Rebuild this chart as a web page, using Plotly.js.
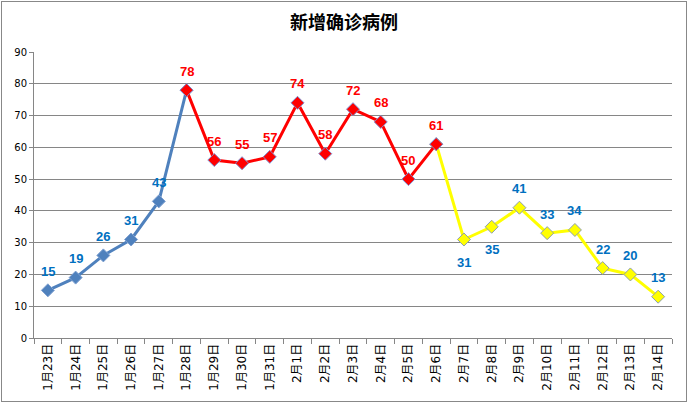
<!DOCTYPE html>
<html>
<head>
<meta charset="utf-8">
<script src="https://cdn.plot.ly/plotly-3.0.1.min.js"></script>
<style>
html,body{margin:0;padding:0;background:#fff;}
#wrap{position:relative;width:688px;height:403px;}
#chart{width:688px;height:403px;}
#frame{position:absolute;left:1px;top:1px;width:684px;height:399px;border:1px solid #888888;pointer-events:none;}
</style>
</head>
<body>
<div id="wrap"><div id="chart"></div><div id="frame"></div></div>
<script>
const categories = ["1月23日","1月24日","1月25日","1月26日","1月27日","1月28日","1月29日","1月30日","1月31日","2月1日","2月2日","2月3日","2月4日","2月5日","2月6日","2月7日","2月8日","2月9日","2月10日","2月11日","2月12日","2月13日","2月14日"];
const values = [15,19,26,31,43,78,56,55,57,74,58,72,68,50,61,31,35,41,33,34,22,20,13];
// segment index ranges
const blueRange = [0,5];
const redRange = [5,14];
const yellowRange = [14,22];
// label placement: 1 = above, -1 = below
const labelSide = [1,1,1,1,1,1,1,1,1,1,1,1,1,1,1,-1,-1,1,1,1,1,1,1];

function seg(r){return {x:categories.slice(r[0],r[1]+1), y:values.slice(r[0],r[1]+1)};}

const blue = seg(blueRange), red = seg(redRange), yellow = seg(yellowRange);
const traces = [
  {type:'scatter',mode:'lines+markers',x:blue.x,y:blue.y,
   line:{color:'#4F81BD',width:3},
   marker:{symbol:'diamond',size:10,color:'#4F81BD',line:{color:'#7FA0D0',width:1}}},
  {type:'scatter',mode:'lines+markers',x:yellow.x,y:yellow.y,
   line:{color:'#FFFF00',width:3},
   marker:{symbol:'diamond',size:10,color:'#FFFF00',line:{color:'#8C9EAF',width:1}}},
  {type:'scatter',mode:'lines+markers',x:red.x,y:red.y,
   line:{color:'#FF0000',width:3},
   marker:{symbol:'diamond',size:10,color:'#FF0000',line:{color:'#7F8FCF',width:1}}}
];

const annotations = values.map((v,i)=>{
  const isRed = i>=redRange[0] && i<=redRange[1];
  return {x:categories[i], y:v, text:String(v), showarrow:false,
    yshift: labelSide[i]>0 ? 19 : -23,
    font:{family:'Liberation Sans, Arial, sans-serif', size:13, color: isRed ? '#FF0000' : '#0070C0', weight:'bold'}};
});

const layout = {
  width:688, height:403,
  margin:{l:34,r:16,t:52,b:65},
  paper_bgcolor:'#ffffff', plot_bgcolor:'#ffffff',
  showlegend:false,
  title:{text:'<b>新增确诊病例</b>', x:0.5, xanchor:'center', y:0.943, yanchor:'middle',
    font:{family:'Noto Sans CJK SC, sans-serif', size:18, color:'#000'}},
  xaxis:{type:'category', categoryorder:'array', categoryarray:categories,
    tickangle:-90, tickson:'boundaries', ticks:'outside', ticklen:5, tickcolor:'#868686',
    showline:true, linecolor:'#868686', linewidth:1, showgrid:false,
    tickfont:{family:'DejaVu Sans, Noto Sans CJK SC, sans-serif', size:12, color:'#000'}, range:[-0.5,22.5]},
  yaxis:{range:[0,90], dtick:10, ticks:'outside', ticklen:4, tickcolor:'#868686',
    showline:true, linecolor:'#868686', linewidth:1, gridcolor:'#868686', gridwidth:1, zeroline:false,
    tickfont:{family:'DejaVu Sans, sans-serif', size:10, color:'#000'}},
  annotations:annotations
};
Plotly.newPlot('chart', traces, layout, {displayModeBar:false, staticPlot:true});
</script>
</body>
</html>
